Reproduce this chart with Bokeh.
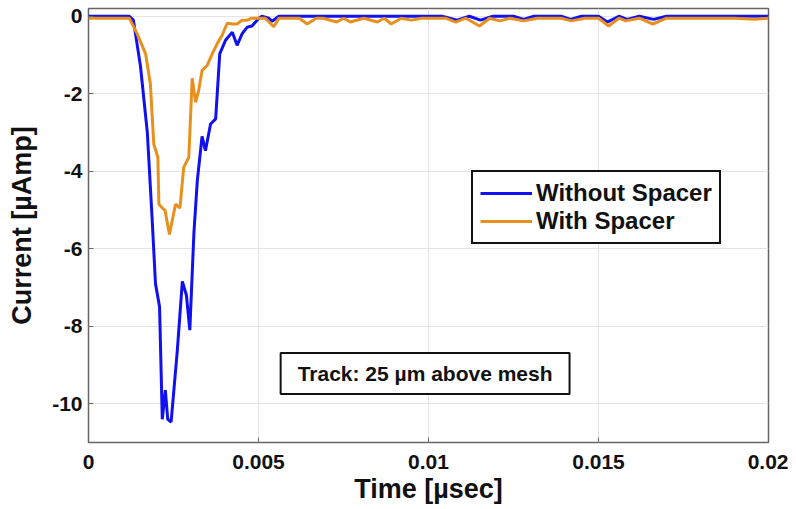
from bokeh.plotting import figure
from bokeh.models import Legend, LegendItem, Label, FixedTicker, Range1d
from bokeh.embed import file_html
from bokeh.resources import INLINE

# Without Spacer (blue)
t_without = [0.0, 0.0005, 0.001, 0.0012, 0.00132, 0.00153, 0.00173, 0.00187, 0.00197, 0.00209,
             0.00217, 0.00226, 0.00233, 0.00243, 0.00261, 0.00276, 0.00288, 0.00298, 0.0031,
             0.0032, 0.00334, 0.00344, 0.00359, 0.00374, 0.00386, 0.00403, 0.00423, 0.00437,
             0.00452, 0.00467, 0.00481, 0.00501, 0.0051, 0.0053, 0.0054, 0.0056, 0.0065,
             0.0075, 0.0085, 0.0095, 0.0104, 0.01084, 0.0112, 0.01153, 0.0119, 0.0125, 0.0128,
             0.0131, 0.0139, 0.01418, 0.0145, 0.0150, 0.01526, 0.0156, 0.01584, 0.0162,
             0.01662, 0.0170, 0.0185, 0.02]
i_without = [0.0, 0.0, 0.0, 0.0, -0.1, -1.3, -3.0, -5.2, -6.9, -7.5,
             -10.4, -9.65, -10.4, -10.47, -8.65, -6.84, -7.2, -8.1, -5.6,
             -4.25, -3.1, -3.47, -2.78, -2.65, -0.97, -0.62, -0.41, -0.75,
             -0.45, -0.28, -0.25, -0.05, 0.0, -0.05, -0.13, 0.0, 0.0,
             0.0, 0.0, 0.0, 0.0, -0.1, 0.0, -0.1, 0.0, 0.0, -0.08,
             0.0, 0.0, -0.08, 0.0, 0.0, -0.15, 0.0, -0.08, 0.0,
             -0.08, 0.0, 0.0, 0.0]

# With Spacer (orange)
t_with = [0.0, 0.0005, 0.001, 0.0012, 0.00143, 0.00168, 0.00182, 0.00192, 0.00204, 0.00207,
          0.00221, 0.00225, 0.00238, 0.00256, 0.00269, 0.0028, 0.00295, 0.00305, 0.00315,
          0.00324, 0.00334, 0.00349, 0.00364, 0.00379, 0.00393, 0.00408, 0.00423, 0.00437,
          0.00452, 0.00467, 0.0048, 0.00501, 0.0052, 0.00545, 0.0056, 0.0062, 0.00643,
          0.0067, 0.0069, 0.0073, 0.0075, 0.0077, 0.0081, 0.0085, 0.0087, 0.0089, 0.0092,
          0.0095, 0.0098, 0.0105, 0.0108, 0.0111, 0.0115, 0.0118, 0.0121, 0.0124, 0.0128,
          0.0132, 0.0139, 0.0142, 0.0146, 0.0150, 0.0153, 0.0156, 0.0158, 0.0162, 0.0166,
          0.0170, 0.0190, 0.0196, 0.02]
i_with = [-0.05, -0.05, -0.05, -0.05, -0.45, -0.97, -1.75, -3.3, -3.64, -4.85,
          -4.98, -5.0, -5.63, -4.85, -4.95, -3.9, -3.64, -1.6, -2.22,
          -1.92, -1.4, -1.27, -0.97, -0.7, -0.49, -0.18, -0.2, -0.2,
          -0.1, -0.1, -0.05, -0.05, -0.05, -0.27, -0.05, -0.05, -0.2,
          -0.05, -0.05, -0.15, -0.05, -0.15, -0.05, -0.15, -0.05, -0.2, -0.05,
          -0.1, -0.05, -0.05, -0.15, -0.05, -0.25, -0.05, -0.12, -0.05, -0.12,
          -0.05, -0.05, -0.12, -0.05, -0.05, -0.25, -0.05, -0.12, -0.05, -0.2,
          -0.05, -0.05, -0.08, -0.05]

x_ticks = [0, 0.005, 0.01, 0.015, 0.02]
x_tick_labels = ["0", "0.005", "0.01", "0.015", "0.02"]
y_ticks = [0, -2, -4, -6, -8, -10]
y_tick_labels = ["0", "-2", "-4", "-6", "-8", "-10"]

FONT = "Liberation Sans"

p = figure(width=788, height=506, output_backend="svg", toolbar_location=None,
           x_range=Range1d(0, 0.02), y_range=Range1d(-11, 0.2),
           min_border_left=88, min_border_right=20, min_border_top=8, min_border_bottom=60)
p.background_fill_color = "white"
p.border_fill_color = "white"
p.outline_line_color = "#666666"
p.outline_line_width = 1.5

l1 = p.line(t_without, i_without, line_color="#1010f0", line_width=3)
l2 = p.line(t_with, i_with, line_color="#e8901e", line_width=3)

p.xaxis.ticker = FixedTicker(ticks=x_ticks)
p.xaxis.major_label_overrides = {k: v for k, v in zip(x_ticks, x_tick_labels)}
p.yaxis.ticker = FixedTicker(ticks=y_ticks)
p.yaxis.major_label_overrides = {k: v for k, v in zip(y_ticks, y_tick_labels)}

for ax in (p.xaxis[0], p.yaxis[0]):
    ax.major_label_text_font = FONT
    ax.major_label_text_font_style = "bold"
    ax.major_label_text_font_size = "21px"
    ax.major_label_text_color = "#111111"
    ax.axis_label_text_font = FONT
    ax.axis_label_text_font_style = "bold"
    ax.axis_label_text_font_size = "27px"
    ax.axis_label_text_color = "#111111"
    ax.axis_line_color = None
    ax.major_tick_in = 5
    ax.major_tick_out = 0
    ax.major_tick_line_color = "#666666"
    ax.minor_tick_line_color = None

p.xaxis.axis_label = "Time [\u00b5sec]"
p.yaxis.axis_label = "Current [\u00b5Amp]"
p.xaxis.axis_label_standoff = 2
p.yaxis.axis_label_standoff = 12
p.xaxis.major_label_standoff = 12
p.yaxis.major_label_standoff = 6

p.xgrid.grid_line_color = "#e4e4e4"
p.ygrid.grid_line_color = "#e4e4e4"

legend = Legend(items=[LegendItem(label="Without Spacer", renderers=[l1]),
                       LegendItem(label="With Spacer", renderers=[l2])],
                location=(383, 198))
legend.label_text_font = FONT
legend.label_text_font_style = "bold"
legend.label_text_font_size = "24px"
legend.label_text_color = "#111111"
legend.label_height = 26
legend.glyph_height = 26
legend.glyph_width = 52
legend.label_standoff = 4
legend.spacing = 0
legend.padding = 7
legend.margin = 0
legend.border_line_color = "#111111"
legend.border_line_alpha = 1.0
legend.border_line_width = 2
legend.background_fill_alpha = 1
p.add_layout(legend)

note = Label(x=0.0099, y=-9.22, text="Track: 25 \u00b5m above mesh",
             text_align="center", text_baseline="middle",
             text_font=FONT, text_font_style="bold", text_font_size="21px",
             text_color="#111111", padding=dict(left=17, right=17, top=9, bottom=9),
             border_line_color="#111111", border_line_width=2,
             background_fill_color="white")
p.add_layout(note)

open("out.html", "w").write(file_html(p, INLINE))
